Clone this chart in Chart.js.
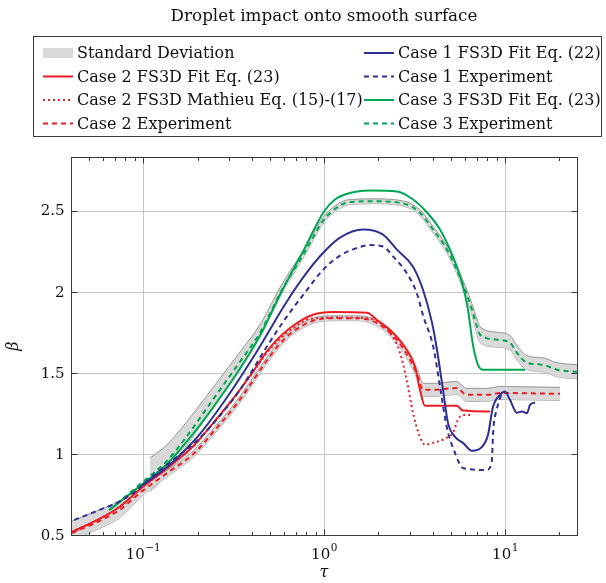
<!DOCTYPE html>
<html>
<head>
<meta charset="utf-8">
<script src="https://cdn.jsdelivr.net/npm/chart.js@4.4.0/dist/chart.umd.min.js"></script>
<style>
  html, body { margin: 0; padding: 0; background: #fff; }
</style>
</head>
<body>
<canvas id="chart" width="606" height="583"></canvas>
<script>
// axis ticks
const tauMajor = [0.1, 1, 10];
const tauLabels = ["\u22121", "0", "1"];
const betaTicks = [0.5, 1, 1.5, 2, 2.5];
const betaLabels = ["0.5", "1", "1.5", "2", "2.5"];

// Case 1
const c1FitTau = [0.0996, 0.134, 0.167, 0.2065, 0.29, 0.4247, 0.6222, 0.8026, 0.987, 1.226, 1.642, 2.118, 2.531, 3.103, 3.524, 3.952, 4.21, 4.545, 4.843, 5.3, 5.86, 6.574, 7.464, 8.056, 8.585, 9.384, 10.0, 10.66, 11.65, 12.41, 13.23, 13.75, 14.65];
const c1FitBeta = [0.809, 0.914, 1.012, 1.123, 1.346, 1.63, 1.938, 2.117, 2.238, 2.333, 2.383, 2.352, 2.259, 2.154, 2.012, 1.809, 1.642, 1.395, 1.191, 1.105, 1.068, 1.019, 1.043, 1.117, 1.29, 1.364, 1.385, 1.333, 1.253, 1.261, 1.251, 1.302, 1.317];
const c1ExpTau = [0.0417, 0.0574, 0.074, 0.0915, 0.0996, 0.119, 0.167, 0.2065, 0.266, 0.3435, 0.4826, 0.5956, 0.7687, 0.991, 1.226, 1.521, 1.795, 2.118, 2.415, 2.863, 3.253, 3.538, 4.017, 4.375, 4.764, 5.295, 5.884, 7.925, 8.444, 8.618, 8.998, 9.59];
const c1ExpBeta = [0.593, 0.654, 0.706, 0.772, 0.809, 0.883, 1.012, 1.099, 1.235, 1.395, 1.66, 1.815, 1.981, 2.136, 2.222, 2.269, 2.287, 2.278, 2.216, 2.115, 1.992, 1.848, 1.66, 1.414, 1.167, 1.006, 0.912, 0.901, 0.951, 1.148, 1.272, 1.375];

// Case 2
const c2FitTau = [0.0405, 0.0574, 0.074, 0.0996, 0.134, 0.19, 0.25, 0.33, 0.4158, 0.4826, 0.5714, 0.674, 0.8695, 1.121, 1.728, 1.955, 2.405, 2.863, 3.183, 3.391, 3.614, 5.41, 5.861, 8.263];
const c2FitBeta = [0.519, 0.599, 0.673, 0.796, 0.907, 1.049, 1.204, 1.37, 1.525, 1.63, 1.722, 1.79, 1.858, 1.875, 1.87, 1.827, 1.747, 1.642, 1.539, 1.395, 1.296, 1.296, 1.267, 1.261];
const c2MathTau = [0.0405, 0.0574, 0.074, 0.0996, 0.134, 0.19, 0.25, 0.33, 0.4158, 0.4826, 0.5714, 0.674, 0.837, 1.226, 1.685, 2.039, 2.315, 2.63, 2.863, 3.103, 3.391, 3.614, 4.002, 4.764, 5.16, 5.5, 5.861, 6.548];
const c2MathBeta = [0.519, 0.599, 0.673, 0.796, 0.907, 1.049, 1.204, 1.37, 1.52, 1.622, 1.71, 1.775, 1.833, 1.84, 1.836, 1.808, 1.747, 1.623, 1.457, 1.253, 1.105, 1.056, 1.068, 1.099, 1.13, 1.21, 1.24, 1.24];
const c2ExpTau = [0.0405, 0.0574, 0.074, 0.0996, 0.134, 0.19, 0.25, 0.33, 0.4158, 0.4826, 0.5714, 0.674, 0.8695, 1.121, 1.521, 1.955, 2.522, 2.987, 3.307, 3.524, 4.002, 5.41, 6.143, 7.925, 9.384, 20.13];
const c2ExpBeta = [0.512, 0.586, 0.654, 0.772, 0.877, 1.0, 1.148, 1.309, 1.469, 1.574, 1.679, 1.753, 1.821, 1.836, 1.836, 1.807, 1.704, 1.58, 1.477, 1.395, 1.395, 1.406, 1.364, 1.364, 1.375, 1.37];
const c2SdUpper = [0.585, 0.655, 0.71, 0.81, 0.895, 1.02, 1.168, 1.329, 1.489, 1.594, 1.699, 1.771, 1.837, 1.851, 1.851, 1.825, 1.727, 1.605, 1.51, 1.435, 1.435, 1.446, 1.404, 1.404, 1.415, 1.41];
const c2SdLower = [0.47, 0.54, 0.605, 0.745, 0.855, 0.98, 1.128, 1.289, 1.449, 1.554, 1.659, 1.735, 1.805, 1.821, 1.821, 1.789, 1.681, 1.555, 1.445, 1.355, 1.355, 1.366, 1.324, 1.324, 1.335, 1.33];

// Case 3
const c3FitTau = [0.0651, 0.0996, 0.134, 0.189, 0.2499, 0.3348, 0.4431, 0.586, 0.775, 1.0, 1.15, 1.306, 1.795, 2.531, 3.103, 3.707, 4.375, 5.16, 5.787, 6.246, 6.548, 6.683, 7.093, 7.559, 12.9];
const c3FitBeta = [0.654, 0.815, 0.932, 1.123, 1.302, 1.506, 1.728, 2.006, 2.259, 2.494, 2.568, 2.599, 2.623, 2.617, 2.568, 2.488, 2.383, 2.216, 2.056, 1.889, 1.722, 1.66, 1.549, 1.519, 1.519];
const c3ExpTau = [0.0651, 0.0996, 0.1093, 0.134, 0.1741, 0.2155, 0.266, 0.3435, 0.4431, 0.586, 0.775, 1.0, 1.226, 1.392, 1.865, 2.873, 3.391, 4.002, 4.783, 5.41, 6.01, 6.574, 7.003, 7.276, 9.033, 10.66, 11.65, 13.23, 16.22, 19.38, 24.99];
const c3ExpBeta = [0.654, 0.827, 0.864, 0.951, 1.107, 1.251, 1.395, 1.568, 1.747, 2.012, 2.235, 2.444, 2.531, 2.552, 2.557, 2.537, 2.486, 2.383, 2.259, 2.136, 2.012, 1.889, 1.784, 1.735, 1.704, 1.685, 1.623, 1.562, 1.549, 1.519, 1.506];
const c3SdTau = [0.1093, 0.134, 0.1741, 0.2155, 0.266, 0.3435, 0.4431, 0.586, 0.775, 1.0, 1.226, 1.392, 1.865, 2.873, 3.391, 4.002, 4.783, 5.41, 6.01, 6.574, 7.003, 7.276, 9.033, 10.66, 11.65, 13.23, 16.22, 19.38, 24.99];
const c3SdUpper = [0.975, 1.05, 1.197, 1.331, 1.465, 1.628, 1.797, 2.047, 2.26, 2.464, 2.549, 2.568, 2.572, 2.553, 2.504, 2.403, 2.281, 2.16, 2.04, 1.925, 1.83, 1.785, 1.75, 1.73, 1.668, 1.605, 1.592, 1.562, 1.55];
const c3SdLower = [0.764, 0.871, 1.047, 1.201, 1.355, 1.538, 1.727, 1.992, 2.215, 2.426, 2.513, 2.536, 2.542, 2.521, 2.468, 2.363, 2.237, 2.112, 1.984, 1.853, 1.738, 1.685, 1.658, 1.64, 1.578, 1.519, 1.506, 1.476, 1.462];

const RED = "#ed1c24";
const BLUE = "#2e3192";
const GREEN = "#00a651";
const SD_FILL = "#d9d9d9";
const SD_EDGE = "#8c8c8c";
const FONT = "'DejaVu Serif', 'Liberation Serif', serif";

const pts = (t, b) => t.map((v, i) => ({ x: v, y: b[i] }));

const line = (label, t, b, color, dash) => ({
  label: label,
  data: pts(t, b),
  borderColor: color,
  borderWidth: 2,
  borderDash: dash || [],
  fill: false,
  order: 1,
});

const band = (t, b, fill) => ({
  label: "",
  data: pts(t, b),
  borderColor: SD_EDGE,
  borderWidth: 0.9,
  backgroundColor: SD_FILL,
  fill: fill,
  order: 5,
});

const datasets = [
  line("Case 1 FS3D Fit Eq. (22)", c1FitTau, c1FitBeta, BLUE),
  line("Case 1 Experiment", c1ExpTau, c1ExpBeta, BLUE, [5, 4]),
  line("Case 2 FS3D Fit Eq. (23)", c2FitTau, c2FitBeta, RED),
  line("Case 2 FS3D Mathieu Eq. (15)-(17)", c2MathTau, c2MathBeta, RED, [2, 3]),
  line("Case 2 Experiment", c2ExpTau, c2ExpBeta, RED, [5, 4]),
  line("Case 3 FS3D Fit Eq. (23)", c3FitTau, c3FitBeta, GREEN),
  line("Case 3 Experiment", c3ExpTau, c3ExpBeta, GREEN, [5, 4]),
  band(c2ExpTau, c2SdUpper, "+1"),
  band(c2ExpTau, c2SdLower, false),
  band(c3SdTau, c3SdUpper, "+1"),
  band(c3SdTau, c3SdLower, false),
];

// legend: left column then right column
const legendCols = [
  [null, 2, 3, 4],
  [0, 1, 5, 6],
];

function strokeLine(ctx, x1, y1, x2, y2) {
  ctx.beginPath();
  ctx.moveTo(x1, y1);
  ctx.lineTo(x2, y2);
  ctx.stroke();
}

const decorations = {
  id: "decorations",
  beforeDatasetsDraw(chart) {
    const { ctx, chartArea: a, scales: { x, y } } = chart;
    ctx.save();
    ctx.strokeStyle = "#c6c6c6";
    ctx.lineWidth = 1;
    tauMajor.forEach((v) => {
      const px = Math.round(x.getPixelForValue(v)) + 0.5;
      strokeLine(ctx, px, a.top, px, a.bottom);
    });
    betaTicks.forEach((v) => {
      const py = Math.round(y.getPixelForValue(v)) + 0.5;
      strokeLine(ctx, a.left, py, a.right, py);
    });
    ctx.restore();
  },
  afterDraw(chart) {
    const { ctx, chartArea: a, scales: { x, y } } = chart;
    ctx.save();
    ctx.strokeStyle = "#3a3a3a";
    ctx.lineWidth = 1;
    const L = Math.round(a.left) + 0.5, R = Math.round(a.right) + 0.5;
    const T = Math.round(a.top) + 0.5, B = Math.round(a.bottom) + 0.5;
    ctx.strokeRect(L, T, R - L, B - T);

    // x ticks, major and minor, on bottom and top, pointing inwards
    for (let e = -2; e <= 1; e++) {
      for (let m = 1; m <= 9; m++) {
        const v = m * Math.pow(10, e);
        if (v < x.min || v > x.max) continue;
        const px = Math.round(x.getPixelForValue(v)) + 0.5;
        const len = m === 1 ? 6 : 3.5;
        strokeLine(ctx, px, B, px, B - len);
        strokeLine(ctx, px, T, px, T + len);
      }
    }
    betaTicks.forEach((v) => {
      const py = Math.round(y.getPixelForValue(v)) + 0.5;
      strokeLine(ctx, L, py, L + 6, py);
      strokeLine(ctx, R, py, R - 6, py);
    });

    ctx.fillStyle = "#111";
    ctx.textBaseline = "middle";
    // y tick labels
    ctx.font = "15px " + FONT;
    ctx.textAlign = "right";
    betaTicks.forEach((v, i) => {
      ctx.fillText(betaLabels[i], L - 7, y.getPixelForValue(v) + 1);
    });
    // x tick labels 10^n
    tauMajor.forEach((v, i) => {
      const px = x.getPixelForValue(v);
      ctx.font = "15px " + FONT;
      const w1 = ctx.measureText("10").width;
      ctx.font = "10.5px " + FONT;
      const w2 = ctx.measureText(tauLabels[i]).width;
      const x0 = px - (w1 + w2) / 2;
      ctx.textAlign = "left";
      ctx.font = "15px " + FONT;
      ctx.fillText("10", x0, B + 20);
      ctx.font = "10.5px " + FONT;
      ctx.fillText(tauLabels[i], x0 + w1 + 0.5, B + 13);
    });
    // axis labels
    ctx.textAlign = "center";
    ctx.font = "italic 16px " + FONT;
    ctx.fillText("\u03c4", (a.left + a.right) / 2, B + 37);
    ctx.save();
    ctx.translate(14, (a.top + a.bottom) / 2);
    ctx.rotate(-Math.PI / 2);
    ctx.fillText("\u03b2", 0, 0);
    ctx.restore();

    // title
    ctx.font = "16.8px " + FONT;
    ctx.fillText("Droplet impact onto smooth surface", (a.left + a.right) / 2, 17);

    // legend
    ctx.strokeStyle = "#3a3a3a";
    ctx.lineWidth = 1;
    ctx.strokeRect(33.5, 36.5, 568, 100);
    const rowY = [53, 76.5, 100, 123.5];
    const colX = [43, 364];
    ctx.font = "16px " + FONT;
    ctx.textAlign = "left";
    legendCols.forEach((col, c) => {
      col.forEach((idx, r) => {
        const x0 = colX[c], yy = rowY[r];
        let text;
        if (idx === null) {
          ctx.fillStyle = SD_FILL;
          ctx.fillRect(x0, yy - 5, 30, 10);
          text = "Standard Deviation";
        } else {
          const ds = chart.data.datasets[idx];
          ctx.strokeStyle = ds.borderColor;
          ctx.lineWidth = 2;
          ctx.setLineDash(ds.borderDash);
          strokeLine(ctx, x0, yy, x0 + 30, yy);
          ctx.setLineDash([]);
          text = ds.label;
        }
        ctx.fillStyle = "#111";
        ctx.fillText(text, x0 + 34, yy + 1);
      });
    });
    ctx.restore();
  },
};

const config = {
  type: "line",
  data: { datasets: datasets },
  options: {
    responsive: false,
    animation: false,
    layout: { padding: { left: 71, right: 29, top: 157, bottom: 48 } },
    elements: {
      point: { radius: 0 },
      line: { cubicInterpolationMode: "monotone", borderCapStyle: "butt" },
    },
    plugins: {
      legend: { display: false },
      title: { display: false },
      tooltip: { enabled: false },
    },
    scales: {
      x: { type: "logarithmic", min: 0.04, max: 25, display: false },
      y: { type: "linear", min: 0.5, max: 2.83, display: false },
    },
  },
  plugins: [decorations],
};

const myChart = new Chart(document.getElementById("chart").getContext("2d"), config);
</script>
</body>
</html>
